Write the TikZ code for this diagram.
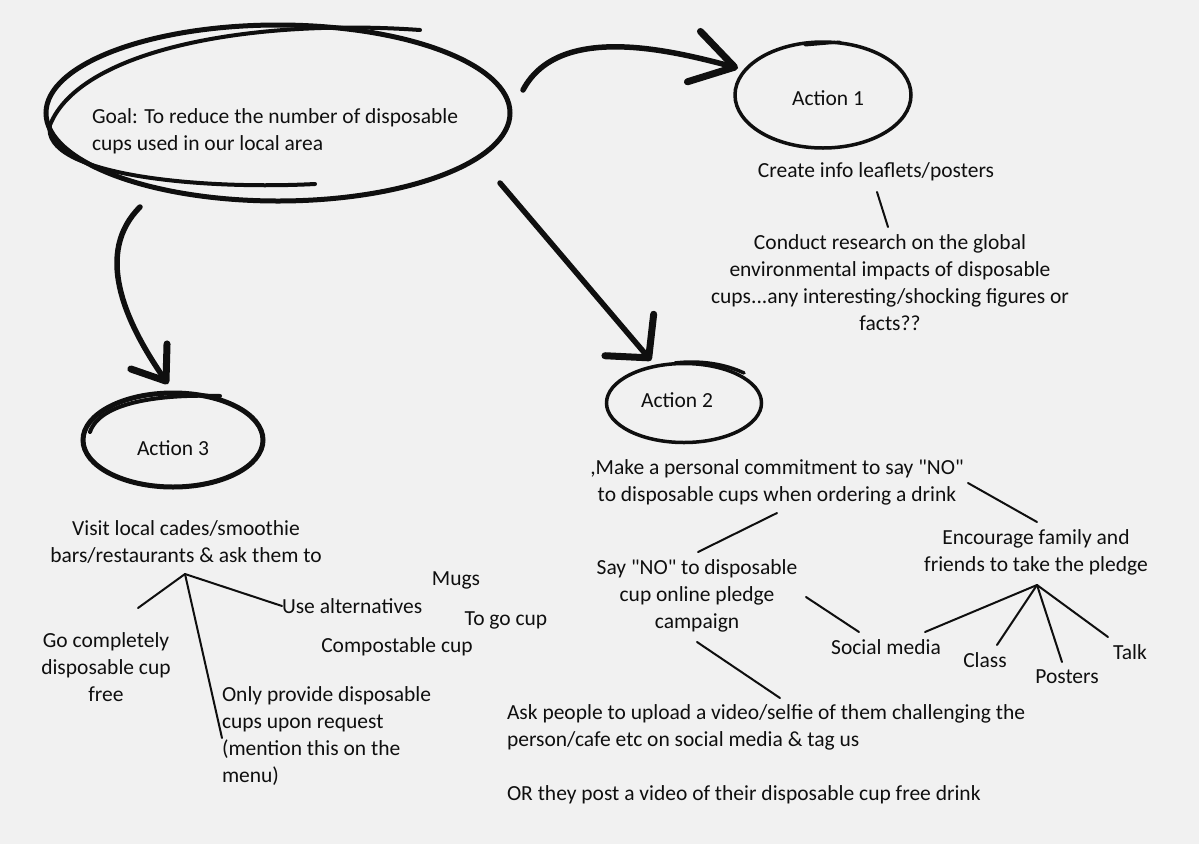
\documentclass[tikz,border=0pt]{standalone}
\usepackage{fontspec}
\setmainfont{Carlito}
\usetikzlibrary{arrows.meta,calc,shapes.geometric}
\definecolor{paper}{RGB}{241,241,241}
\definecolor{ink}{RGB}{15,15,15}
\newcommand{\q}{\textquotedbl}
\begin{document}
\begin{tikzpicture}[x=1pt,y=-1pt,
  txt/.style={font=\fontsize{21.5}{27}\selectfont, align=center, inner sep=0pt, outer sep=0pt, text=ink},
  ltxt/.style={txt, align=left},
  oval/.style={ellipse, draw=ink, inner sep=0pt, outer sep=0pt},
  link/.style={draw=ink, line width=2pt, line cap=round},
  bigarrow/.style={draw=ink, line width=5.5pt, line cap=round},
  sketch/.style={draw=ink, line cap=round},
]
\fill[paper] (0,0) rectangle (1199,844);
\useasboundingbox (0,0) rectangle (1199,844);

% ---------- Goal ----------
\node[oval, line width=5pt, minimum width=464pt, minimum height=176pt] (goal) at (278,113) {};
\draw[sketch, line width=4pt] (420,30) .. controls (250,18) and (80,50) .. (50,125)
      .. controls (40,175) and (200,190) .. (315,184);
\node[ltxt, anchor=west] (goalt) at (92,131) {Goal: To reduce the number of disposable\\cups used in our local area};

% ---------- Action ovals ----------
\node[oval, line width=3.5pt, minimum width=176pt, minimum height=106pt] (a1) at (823,95) {};
\draw[sketch, line width=3pt] (805,45) -- (840,42);
\node[txt] (a1t) at (828,98) {Action 1};

\node[oval, line width=3.5pt, minimum width=155pt, minimum height=79pt] (a2) at (684,403) {};
\draw[sketch, line width=3.5pt] (675,363) .. controls (700,360) and (725,364) .. (744,373);
\node[txt] (a2t) at (677,400) {Action 2};

\node[oval, line width=5pt, minimum width=180pt, minimum height=94pt] (a3) at (173,440) {};
\draw[sketch, line width=4pt] (90,432) .. controls (100,402) and (160,394) .. (220,396);
\node[txt] (a3t) at (173,448) {Action 3};

% ---------- Big arrows ----------
\draw[bigarrow, -{Straight Barb[length=42pt,width=52pt,line width=7pt,round]}]
  ($(goal.east)+(13,-23)$) .. controls (560,20) and (680,53) .. ($(a1.west)+(3,-27)$);
\draw[bigarrow, -{Straight Barb[length=30pt,width=64pt,line width=7pt,round]}]
  ($(goal.east)+(-10,70)$) -- ($(a2.north)+(-33,-3)$);
\draw[bigarrow, -{Straight Barb[length=30pt,width=44pt,line width=7pt,round]}]
  ($(goal.south)+(-138,6)$) .. controls +(-45,45) and +(-45,-65) .. ($(a3.north)+(-5,-9)$);

% ---------- Action 1 ----------
\node[txt] (create) at (876,172) {Create info leaflets/posters};
\node[txt] (research) at (890,283) {Conduct research on the global\\environmental impacts of disposable\\cups...any interesting/shocking figures or\\facts??};
\draw[link] ($(create.center)+(1,20)$) -- ($(research.center)+(-2,-56)$);

% ---------- Action 3 ----------
\node[txt] (visit) at (186,542) {Visit local cades/smoothie\\bars/restaurants \& ask them to};
\coordinate (b3) at ($(visit.center)+(-1,32)$);
\node[txt] (gofree) at (106,667) {Go completely\\disposable cup\\free};
\node[txt, anchor=west] (usealt) at (282,606) {Use alternatives};
\node[ltxt, anchor=west] (onlyp) at (222,736) {Only provide disposable\\cups upon request\\(mention this on the\\menu)};
\node[txt] (mugs) at (456,580) {Mugs};
\node[txt] (togo) at (506,620) {To go cup};
\node[txt] (compost) at (397,647) {Compostable cup};
\draw[link] (b3) -- ($(gofree.center)+(32,-59)$);
\draw[link] (b3) -- ($(onlyp.west)+(0,2)$);
\draw[link] (b3) -- (usealt.west);

% ---------- Action 2 ----------
\node[txt] (commit) at (777,482) {,Make a personal commitment to say \q NO\q\\to disposable cups when ordering a drink};
\node[txt] (sayno) at (697,596) {Say \q NO\q{} to disposable\\cup online pledge\\campaign};
\node[txt] (encourage) at (1036,552) {Encourage family and\\friends to take the pledge};
\node[txt] (social) at (886,647) {Social media};
\node[txt] (class) at (985,660) {Class};
\node[txt] (posters) at (1067,677) {Posters};
\node[txt] (talk) at (1130,652) {Talk};
\node[ltxt, anchor=west] (ask) at (507,727) {Ask people to upload a video/selfie of them challenging the\\person/cafe etc on social media \& tag us};
\node[txt, anchor=west] (orpost) at (507,795) {OR they post a video of their disposable cup free drink};

\draw[link] ($(commit.center)+(191,1)$) -- ($(encourage.center)+(1,-30)$);
\draw[link] ($(commit.center)+(0,31)$) -- ($(sayno.center)+(1,-44)$);
\draw[link] ($(sayno.center)+(109,1)$) -- ($(social.center)+(-27,-15)$);
\draw[link] ($(sayno.center)+(0,46)$) -- ($(ask.west)+(273,-29)$);
\coordinate (b2) at ($(encourage.center)+(1,33)$);
\draw[link] (b2) -- ($(social.center)+(39,-15)$);
\draw[link] (b2) -- ($(class.center)+(12,-15)$);
\draw[link] (b2) -- ($(posters.center)+(-5,-15)$);
\draw[link] (b2) -- ($(talk.center)+(-22,-15)$);
\end{tikzpicture}
\end{document}
